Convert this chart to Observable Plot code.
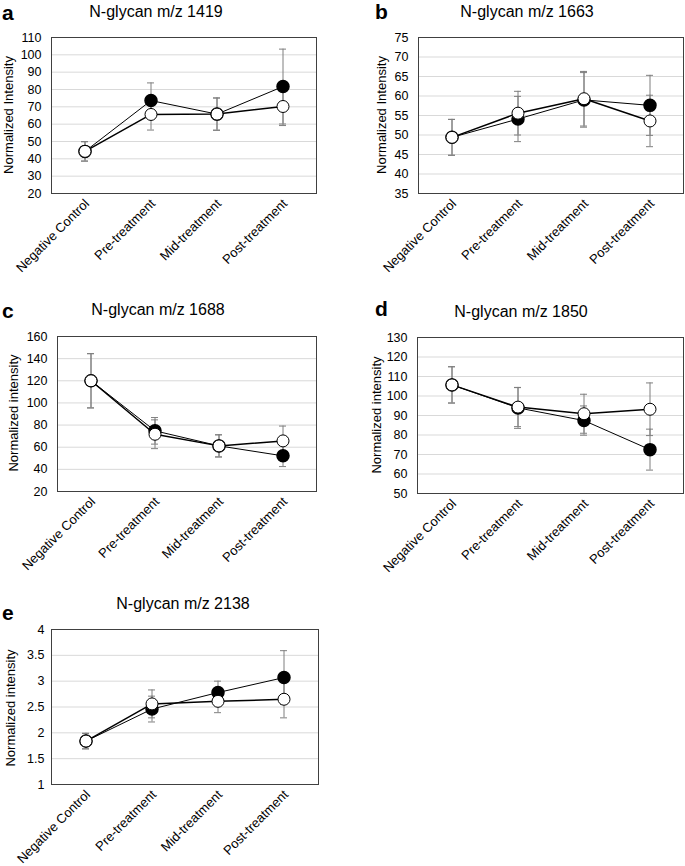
<!DOCTYPE html>
<html>
<head>
<meta charset="utf-8">
<script src="https://cdn.jsdelivr.net/npm/d3@7"></script>
<script src="https://cdn.jsdelivr.net/npm/@observablehq/plot@0.6"></script>
<style>
  html, body { margin: 0; padding: 0; background: #fff; }
  #root { position: relative; width: 685px; height: 866px; overflow: hidden; font-family: "Liberation Sans", Arial, sans-serif; color: #000; }
  .title { position: absolute; font-size: 16px; white-space: nowrap; transform: translate(-50%, -50%); line-height: 1; }
  .letter { position: absolute; font-size: 21px; font-weight: bold; line-height: 1; transform: translate(0, -50%); }
  .ylab { position: absolute; font-size: 13px; white-space: nowrap; line-height: 1; transform: translate(-50%, -50%) rotate(-90deg); }
  svg { position: absolute; }
</style>
</head>
<body>
<div id="root"></div>
<script>
const categories = ["Negative Control", "Pre-treatment", "Mid-treatment", "Post-treatment"];

// Panel a: N-glycan m/z 1419
const aTicks = [20, 30, 40, 50, 60, 70, 80, 90, 100, 110];
const aFilled = [44.3, 73.6, 65.8, 81.7];
const aFilledSD = [5.6, 10.2, 9.3, 21.6];
const aOpen = [44.3, 65.6, 65.8, 70.2];
const aOpenSD = [5.6, 9.0, 9.3, 11.0];

// Panel b: N-glycan m/z 1663
const bTicks = [35, 40, 45, 50, 55, 60, 65, 70, 75];
const bFilled = [49.4, 54.1, 59.0, 57.6];
const bFilledSD = [4.6, 5.8, 7.0, 7.7];
const bOpen = [49.4, 55.6, 59.3, 53.6];
const bOpenSD = [4.6, 5.6, 7.0, 6.6];

// Panel c: N-glycan m/z 1688
const cTicks = [20, 40, 60, 80, 100, 120, 140, 160];
const cFilled = [120, 74.8, 61.2, 52.2];
const cFilledSD = [24.5, 12.0, 10.0, 9.7];
const cOpen = [120, 71.7, 61.2, 65.7];
const cOpenSD = [24.5, 13.0, 10.0, 13.4];

// Panel d: N-glycan m/z 1850
const dTicks = [50, 60, 70, 80, 90, 100, 110, 120, 130];
const dFilled = [105.7, 93.9, 87.4, 72.5];
const dFilledSD = [9.3, 10.5, 7.5, 10.5];
const dOpen = [105.7, 94.3, 90.9, 93.2];
const dOpenSD = [9.3, 10.0, 10.0, 13.5];

// Panel e: N-glycan m/z 2138
const eTicks = [1, 1.5, 2, 2.5, 3, 3.5, 4];
const eFilled = [1.84, 2.46, 2.78, 3.07];
const eFilledSD = [0.15, 0.25, 0.22, 0.52];
const eOpen = [1.84, 2.56, 2.61, 2.65];
const eOpenSD = [0.15, 0.27, 0.22, 0.36];

const root = document.getElementById("root");

function addDiv(cls, text, left, top) {
  const d = document.createElement("div");
  d.className = cls;
  d.textContent = text;
  d.style.left = left + "px";
  d.style.top = top + "px";
  root.appendChild(d);
}

function panel(p) {
  const filledRows = categories.map((c, i) => ({cat: c, v: p.filled[i], sd: p.filledSD[i]}));
  const openRows = categories.map((c, i) => ({cat: c, v: p.open[i], sd: p.openSD[i]}));
  const all = filledRows.concat(openRows);
  const plotW = p.width - p.mL - p.mR;
  const step = plotW / categories.length;
  const pi = 1 - 7 / step; // cap width ~7px
  const chart = Plot.plot({
    width: p.width,
    height: p.height,
    marginLeft: p.mL,
    marginRight: p.mR,
    marginTop: p.mT,
    marginBottom: p.mB,
    style: {fontFamily: "'Liberation Sans', Arial, sans-serif", fontSize: "12.5px", color: "#000", background: "transparent", overflow: "visible"},
    x: {type: "band", domain: categories, paddingInner: pi, paddingOuter: pi / 2, axis: null},
    y: {domain: [p.ticks[0], p.ticks[p.ticks.length - 1]], axis: null},
    marks: [
      Plot.gridY(p.ticks, {stroke: "#d9d9d9", strokeOpacity: 1}),
      Plot.axisY(p.ticks, {tickSize: 0, tickPadding: p.tickPad, label: null, fontSize: 12.5, tickFormat: d => String(d)}),
      Plot.text(categories, {x: d => d, frameAnchor: "bottom", rotate: -45, textAnchor: "end", lineAnchor: "middle", dx: 2, dy: 8, fontSize: 13, fill: "#000"}),
      Plot.ruleX(all, {x: "cat", y1: d => d.v - d.sd, y2: d => d.v + d.sd, stroke: "#7f7f7f", strokeWidth: 1}),
      Plot.tickY(all, {x: "cat", y: d => d.v - d.sd, stroke: "#7f7f7f", strokeWidth: 1}),
      Plot.tickY(all, {x: "cat", y: d => d.v + d.sd, stroke: "#7f7f7f", strokeWidth: 1}),
      Plot.line(filledRows, {x: "cat", y: "v", stroke: "#000", strokeWidth: 1}),
      Plot.line(openRows, {x: "cat", y: "v", stroke: "#000", strokeWidth: 1.5}),
      Plot.dot(filledRows, {x: "cat", y: "v", r: 6, fill: "#000", stroke: "#000"}),
      Plot.dot(openRows, {x: "cat", y: "v", r: 6, fill: "#fff", stroke: "#000", strokeWidth: 1}),
      Plot.frame({stroke: "#404040", strokeWidth: 1})
    ]
  });
  chart.style.left = p.left + "px";
  chart.style.top = p.top + "px";
  root.appendChild(chart);
  addDiv("title", p.title, p.titleX, p.titleY);
  addDiv("letter", p.letter, p.letterX, p.letterY);
  addDiv("ylab", p.ylabel, p.ylabX, p.ylabY);
}

panel({left: 0, top: 0, width: 340, height: 290, mL: 51, mR: 24, mT: 37, mB: 97,
  ticks: aTicks, filled: aFilled, filledSD: aFilledSD, open: aOpen, openSD: aOpenSD, tickPad: 10,
  title: "N-glycan m/z 1419", titleX: 156, titleY: 12, letter: "a", letterX: 2, letterY: 12,
  ylabel: "Normalized Intensity", ylabX: 8, ylabY: 115});

panel({left: 340, top: 0, width: 345, height: 290, mL: 78, mR: 2, mT: 37, mB: 97,
  ticks: bTicks, filled: bFilled, filledSD: bFilledSD, open: bOpen, openSD: bOpenSD, tickPad: 10,
  title: "N-glycan m/z 1663", titleX: 527, titleY: 12, letter: "b", letterX: 375, letterY: 11,
  ylabel: "Normalized Intensity", ylabX: 381, ylabY: 115});

panel({left: 0, top: 290, width: 340, height: 290, mL: 57, mR: 24, mT: 46, mB: 89,
  ticks: cTicks, filled: cFilled, filledSD: cFilledSD, open: cOpen, openSD: cOpenSD, tickPad: 10,
  title: "N-glycan m/z 1688", titleX: 158, titleY: 310, letter: "c", letterX: 2, letterY: 310,
  ylabel: "Normalized intensity", ylabX: 13, ylabY: 413});

panel({left: 340, top: 290, width: 345, height: 290, mL: 77, mR: 2, mT: 47, mB: 87,
  ticks: dTicks, filled: dFilled, filledSD: dFilledSD, open: dOpen, openSD: dOpenSD, tickPad: 10,
  title: "N-glycan m/z 1850", titleX: 521, titleY: 312, letter: "d", letterX: 375, letterY: 308,
  ylabel: "Normalized intensity", ylabX: 376, ylabY: 415});

panel({left: 0, top: 575, width: 340, height: 291, mL: 51, mR: 22, mT: 54, mB: 82,
  ticks: eTicks, filled: eFilled, filledSD: eFilledSD, open: eOpen, openSD: eOpenSD, tickPad: 7,
  title: "N-glycan m/z 2138", titleX: 183, titleY: 604, letter: "e", letterX: 2, letterY: 612,
  ylabel: "Normalized intensity", ylabX: 10, ylabY: 708});
</script>
</body>
</html>
